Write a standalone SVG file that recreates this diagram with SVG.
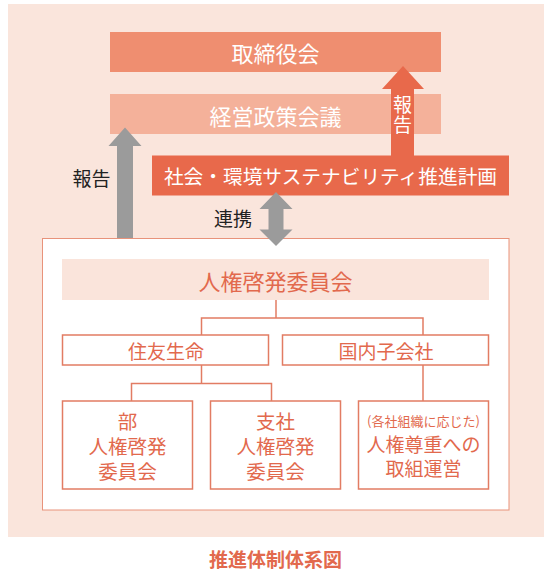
<svg xmlns="http://www.w3.org/2000/svg" width="556" height="576" viewBox="0 0 556 576">
<style>
text{font-family:"Noto Sans CJK JP","Noto Sans",sans-serif;text-anchor:middle;dominant-baseline:central}
.w{fill:#ffffff}
.o{fill:#e2694d}
.k{fill:#222222}
.box{fill:#ffffff;stroke:#e27c63;stroke-width:1.5}
.ln{fill:none;stroke:#e27c63;stroke-width:1.5}
.gray{fill:#9b9b9b}
</style>
<rect width="556" height="576" fill="#ffffff"/>
<rect id="panel" x="8" y="4" width="536" height="533" fill="#fae5dc"/>

<g id="board">
<rect x="110" y="32" width="331" height="40" fill="#ef8e70"/>
<text class="w" x="275.5" y="52" font-size="22">取締役会</text>
</g>
<g id="management">
<rect x="110" y="94" width="331" height="40" fill="#f4b19a"/>
<text class="w" x="275.5" y="114.5" font-size="22">経営政策会議</text>
</g>
<g id="plan">
<rect x="152" y="155.5" width="357" height="40" fill="#e8694b"/>
<text class="w" x="330.5" y="175.5" font-size="19.7">社会・環境サステナビリティ推進計画</text>
</g>
<g id="frame">
<rect x="42.5" y="238.5" width="466.5" height="271.5" fill="#ffffff" stroke="#e8937b" stroke-width="1"/>
</g>

<g id="committee">
<rect x="62" y="259" width="427" height="41" fill="#fae4db"/>
<text class="o" x="275.5" y="280" font-size="22">人権啓発委員会</text>
</g>
<g id="sumitomo">
<rect class="box" x="62.5" y="335" width="206" height="30"/>
<text class="o" x="166" y="350.5" font-size="19">住友生命</text>
</g>
<g id="subsidiaries">
<rect class="box" x="282.5" y="335" width="206" height="30"/>
<text class="o" x="386" y="350.5" font-size="19">国内子会社</text>
</g>
<g id="dept">
<rect class="box" x="62.5" y="401" width="130" height="88"/>
<text class="o" font-size="19.5"><tspan x="127.5" y="420">部</tspan><tspan x="127.5" y="445">人権啓発</tspan><tspan x="127.5" y="470">委員会</tspan></text>
</g>
<g id="branch">
<rect class="box" x="210.5" y="401" width="130" height="88"/>
<text class="o" font-size="19.5"><tspan x="275.5" y="420">支社</tspan><tspan x="275.5" y="445">人権啓発</tspan><tspan x="275.5" y="470">委員会</tspan></text>
</g>
<g id="respect">
<rect class="box" x="358.5" y="401" width="130" height="88"/>
<text class="o" x="423.5" y="420.5" font-size="13">(各社組織に応じた)</text>
<text class="o" font-size="19"><tspan x="423.5" y="442.5">人権尊重への</tspan><tspan x="423.5" y="467">取組運営</tspan></text>
</g>

<g id="connectors">
<polygon class="gray" points="117,238 117,146 108.5,146 125,127.5 141.5,146 133,146 133,238"/>
<text class="k" x="91.5" y="177" font-size="19">報告</text>
<polygon points="391,156 391,89 382,89 403,66 424,89 414,89 414,156" fill="#e8694b"/>
<text class="w" x="402.5" y="115" font-size="19" writing-mode="vertical-rl" letter-spacing="1">報告</text>
<polygon class="gray" points="276,192 292.5,209 283.5,209 283.5,229.5 292.5,229.5 276,246 259.5,229.5 268.5,229.5 268.5,209 259.5,209"/>
<text class="k" x="233" y="217" font-size="19">連携</text>
<polyline class="ln" points="276,300 276,318"/>
<polyline class="ln" points="201.5,335 201.5,318 423,318 423,335"/>
<polyline class="ln" points="201.5,365 201.5,383.5"/>
<polyline class="ln" points="131.5,401 131.5,383.5 271.5,383.5 271.5,401"/>
<polyline class="ln" points="423,365 423,401"/>
</g>

<text class="o" x="275.5" y="558" font-size="19" font-weight="bold">推進体制体系図</text>
</svg>
